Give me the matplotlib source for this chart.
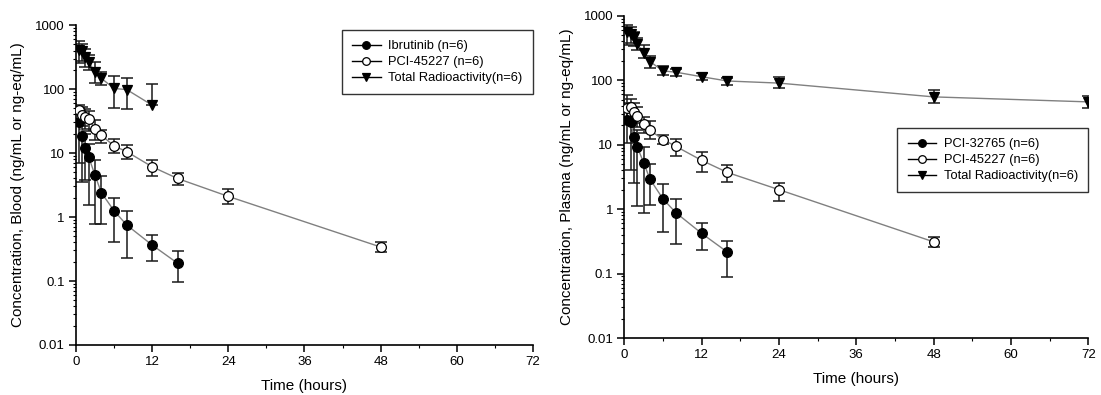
import matplotlib
matplotlib.use("Agg")
import matplotlib.pyplot as plt
import numpy as np
from matplotlib.ticker import FixedLocator, LogLocator, NullFormatter

plt.rcParams["font.family"] = ["Liberation Sans", "DejaVu Sans"]

# ---- Blood (left panel) ----
blood_t_ibr = [0.5, 1, 1.5, 2, 3, 4, 6, 8, 12, 16]
blood_ibr = [31, 18.5, 11.8, 8.7, 4.5, 2.4, 1.25, 0.75, 0.365, 0.19]
blood_ibr_lo = [6.9, 3.5, 3.8, 1.55, 0.79, 0.79, 0.40, 0.23, 0.205, 0.095]
blood_ibr_hi = [50, 33, 20, 14, 7.8, 4.3, 2.0, 1.24, 0.53, 0.29]

blood_t_pci = [0.5, 1, 1.5, 2, 3, 4, 6, 8, 12, 16, 24, 48]
blood_pci = [47, 39, 36, 33.6, 24, 19, 12.9, 10.5, 6.1, 4.0, 2.1, 0.34]
blood_pci_lo = [30, 26, 24, 22, 16, 14.5, 10, 8, 4.4, 3.2, 1.58, 0.28]
blood_pci_hi = [56, 52, 48, 46, 33, 23, 16.3, 13.3, 7.8, 4.9, 2.7, 0.41]

blood_t_tr = [0.5, 1, 1.5, 2, 3, 4, 6, 8, 12]
blood_tr = [405, 390, 320, 260, 185, 147, 102, 98, 56]
blood_tr_lo = [252, 270, 224, 200, 123, 116, 50, 48, 56]
blood_tr_hi = [570, 505, 420, 340, 261, 186, 159, 147, 118]

# ---- Plasma (right panel) ----
plasma_t_32765 = [0.5, 1, 1.5, 2, 3, 4, 6, 8, 12, 16]
plasma_32765 = [24, 22.7, 13, 9.3, 5.25, 2.9, 1.44, 0.88, 0.42, 0.215]
plasma_32765_lo = [10.5, 4.0, 2.5, 1.12, 0.88, 1.16, 0.44, 0.29, 0.23, 0.087]
plasma_32765_hi = [45, 38, 24, 17, 9.3, 5.0, 2.45, 1.44, 0.60, 0.32]

plasma_t_pci = [0.5, 1, 1.5, 2, 3, 4, 6, 8, 12, 16, 24, 48]
plasma_pci = [37, 39, 32.5, 27.5, 21, 16.7, 12, 9.4, 5.7, 3.7, 2.0, 0.31]
plasma_pci_lo = [25, 27, 22, 19, 15, 12.1, 10.2, 6.7, 3.7, 2.6, 1.34, 0.26]
plasma_pci_hi = [59, 51, 45, 38, 26.6, 23, 14, 12.3, 7.8, 4.8, 2.5, 0.37]

plasma_t_tr = [0.5, 1, 1.5, 2, 3, 4, 6, 8, 12, 16, 24, 48, 72]
plasma_tr = [555, 520, 460, 370, 261, 194, 139, 133, 113, 97, 90, 55, 46]
plasma_tr_lo = [352, 380, 340, 290, 218, 153, 120, 117, 100, 84.5, 75, 45, 37]
plasma_tr_hi = [718, 660, 560, 450, 352, 237, 163, 149, 128, 107, 113, 70, 57]

x_ticks = [0, 12, 24, 36, 48, 60, 72]
y_ticks = [0.01, 0.1, 1, 10, 100, 1000]
y_ticklabels = ["0.01", "0.1", "1", "10", "100", "1000"]


def series(ax, t, y, lo, hi, marker, face, label):
    t = np.asarray(t, float)
    y = np.asarray(y, float)
    err = [y - np.asarray(lo, float), np.asarray(hi, float) - y]
    ax.errorbar(t, y, yerr=err, fmt="none", ecolor="#1a1a1a", elinewidth=1.1,
                capsize=4.5, capthick=1.1, zorder=2)
    ax.plot(t, y, color="#808080", lw=1.0, zorder=3)
    ax.plot(t, y, linestyle="none", marker=marker, ms=7, mfc=face,
            mec="black", mew=0.9, zorder=4)
    # legend proxy
    ax.plot([], [], color="black", lw=1.0, marker=marker, ms=5.5, mfc=face,
            mec="black", mew=0.9, label=label)


def style(ax, ylabel):
    ax.set_yscale("log")
    ax.set_xlim(0, 72)
    ax.set_ylim(0.01, 1000)
    for s in ("top", "right"):
        ax.spines[s].set_visible(False)
    for s in ("left", "bottom"):
        ax.spines[s].set_linewidth(1.2)
    ax.xaxis.set_major_locator(FixedLocator(x_ticks))
    ax.xaxis.set_minor_locator(FixedLocator([6, 18, 30, 42, 54, 66]))
    ax.yaxis.set_major_locator(FixedLocator(y_ticks))
    ax.set_yticklabels(y_ticklabels)
    ax.yaxis.set_minor_locator(LogLocator(base=10, subs=np.arange(2, 10)))
    ax.yaxis.set_minor_formatter(NullFormatter())
    ax.tick_params(which="major", direction="out", length=5, width=1.1,
                   labelsize=9.5, pad=3)
    ax.tick_params(which="minor", direction="out", length=2.5, width=0.8)
    ax.set_xlabel("Time (hours)", fontsize=11, labelpad=8)
    ax.set_ylabel(ylabel, fontsize=11)


fig = plt.figure(figsize=(11.01, 3.95), dpi=100)
ax1 = fig.add_axes([0.069, 0.1266, 0.415, 0.81])
ax2 = fig.add_axes([0.567, 0.1443, 0.4215, 0.816])

series(ax1, blood_t_ibr, blood_ibr, blood_ibr_lo, blood_ibr_hi, "o", "black", "Ibrutinib (n=6)")
series(ax1, blood_t_pci, blood_pci, blood_pci_lo, blood_pci_hi, "o", "white", "PCI-45227 (n=6)")
series(ax1, blood_t_tr, blood_tr, blood_tr_lo, blood_tr_hi, "v", "black", "Total Radioactivity(n=6)")
style(ax1, "Concentration, Blood (ng/mL or ng-eq/mL)")
ax1.yaxis.set_label_coords(-0.112, 0.5)

series(ax2, plasma_t_32765, plasma_32765, plasma_32765_lo, plasma_32765_hi, "o", "black", "PCI-32765 (n=6)")
series(ax2, plasma_t_pci, plasma_pci, plasma_pci_lo, plasma_pci_hi, "o", "white", "PCI-45227 (n=6)")
series(ax2, plasma_t_tr, plasma_tr, plasma_tr_lo, plasma_tr_hi, "v", "black", "Total Radioactivity(n=6)")
style(ax2, "Concentration, Plasma (ng/mL or ng-eq/mL)")
ax2.yaxis.set_label_coords(-0.108, 0.5)

for ax, anchor in ((ax1, (1.0, 0.985)), (ax2, (1.0, 0.652))):
    leg = ax.legend(loc="upper right", bbox_to_anchor=anchor, fontsize=9.3,
                    frameon=True, fancybox=False, handlelength=2.2,
                    borderpad=0.8, labelspacing=0.3, handletextpad=0.6,
                    borderaxespad=0.0)
    leg.get_frame().set_edgecolor("black")
    leg.get_frame().set_linewidth(1.0)

fig.savefig("out.png", dpi=100, facecolor="white")
